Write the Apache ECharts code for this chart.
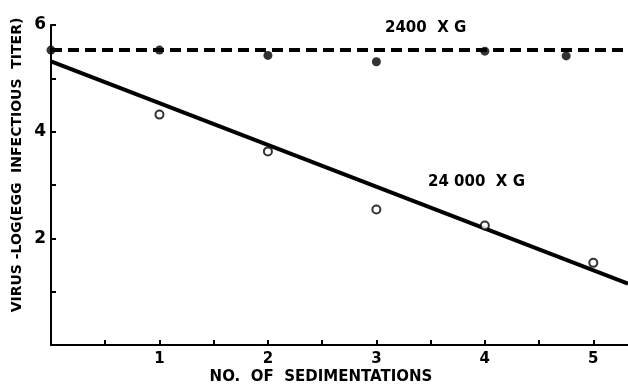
<!DOCTYPE html>
<html>
<head>
<meta charset="utf-8">
<script src="https://cdn.jsdelivr.net/npm/echarts@6/dist/echarts.min.js"></script>
<style>
  html, body { margin: 0; padding: 0; background: #fff; }
  #chart { width: 628px; height: 387px; }
</style>
</head>
<body>
<div id="chart"></div>
<script>
// 2400 x G (filled dots)
const lowX = [0, 1, 2, 3, 4, 4.75];
const lowY = [5.53, 5.53, 5.43, 5.31, 5.51, 5.42];
// 24 000 x G (open circles)
const highX = [1, 2, 3, 4, 5];
const highY = [4.32, 3.63, 2.54, 2.24, 1.54];
// drawn lines
const lowLineX = [0, 5.32];
const lowLineY = [5.53, 5.53];
const highLineX = [0, 5.32];
const highLineY = [5.32, 1.15];

const font = "'DejaVu Sans', sans-serif";
const zip = (xs, ys) => xs.map((x, i) => [x, ys[i]]);

const chart = echarts.init(document.getElementById("chart"));
chart.setOption({
    animation: false,
    grid: { left: 51, right: 0, top: 25, bottom: 42 },
    xAxis: {
        type: "value",
        min: 0,
        max: 5.32,
        interval: 0.5,
        axisLine: { lineStyle: { color: "#000", width: 2 } },
        axisTick: { inside: true, length: 5, lineStyle: { color: "#000", width: 2 } },
        splitLine: { show: false },
        axisLabel: {
            color: "#000",
            fontFamily: font,
            fontWeight: "bold",
            fontSize: 15,
            margin: 7,
            showMaxLabel: false,
            formatter: v => (v > 0 && v <= 5 && v % 1 === 0 ? String(v) : ""),
        },
    },
    yAxis: {
        type: "value",
        min: 0,
        max: 6,
        interval: 1,
        axisLine: { show: true, lineStyle: { color: "#000", width: 2 } },
        axisTick: { show: true, inside: true, length: 5, lineStyle: { color: "#000", width: 2 } },
        splitLine: { show: false },
        axisLabel: {
            color: "#000",
            fontFamily: font,
            fontWeight: "bold",
            fontSize: 17,
            margin: 5,
            formatter: v => (v > 0 && v % 2 === 0 ? String(v) : ""),
        },
    },
    series: [
        {
            type: "line",
            data: zip(lowLineX, lowLineY),
            symbol: "none",
            lineStyle: { color: "#000", width: 4, type: [11, 6] },
            silent: true,
        },
        {
            type: "line",
            data: zip(highLineX, highLineY),
            symbol: "none",
            lineStyle: { color: "#000", width: 4 },
            silent: true,
        },
        {
            type: "scatter",
            data: zip(lowX, lowY),
            symbol: "circle",
            symbolSize: 9,
            clip: false,
            itemStyle: { color: "#000" },
            z: 5,
        },
        {
            type: "scatter",
            data: zip(highX, highY),
            symbol: "circle",
            symbolSize: 8,
            clip: false,
            itemStyle: { color: "#fff", borderColor: "#000", borderWidth: 2 },
            z: 5,
        },
    ],
    graphic: [
        {
            type: "text",
            left: 385,
            top: 21,
            style: { text: "2400  X G", fill: "#000", font: "bold 15px " + font },
        },
        {
            type: "text",
            left: 428,
            top: 175,
            style: { text: "24 000  X G", fill: "#000", font: "bold 15px " + font },
        },
        {
            type: "text",
            x: 321,
            y: 377,
            style: {
                text: "NO.  OF  SEDIMENTATIONS",
                fill: "#000",
                font: "bold 15px " + font,
                align: "center",
                verticalAlign: "middle",
            },
        },
        {
            type: "text",
            x: 17,
            y: 165,
            rotation: Math.PI / 2,
            style: {
                text: "VIRUS -LOG(EGG  INFECTIOUS  TITER)",
                fill: "#000",
                font: "bold 14px " + font,
                align: "center",
                verticalAlign: "middle",
            },
        },
    ],
});
</script>
</body>
</html>
